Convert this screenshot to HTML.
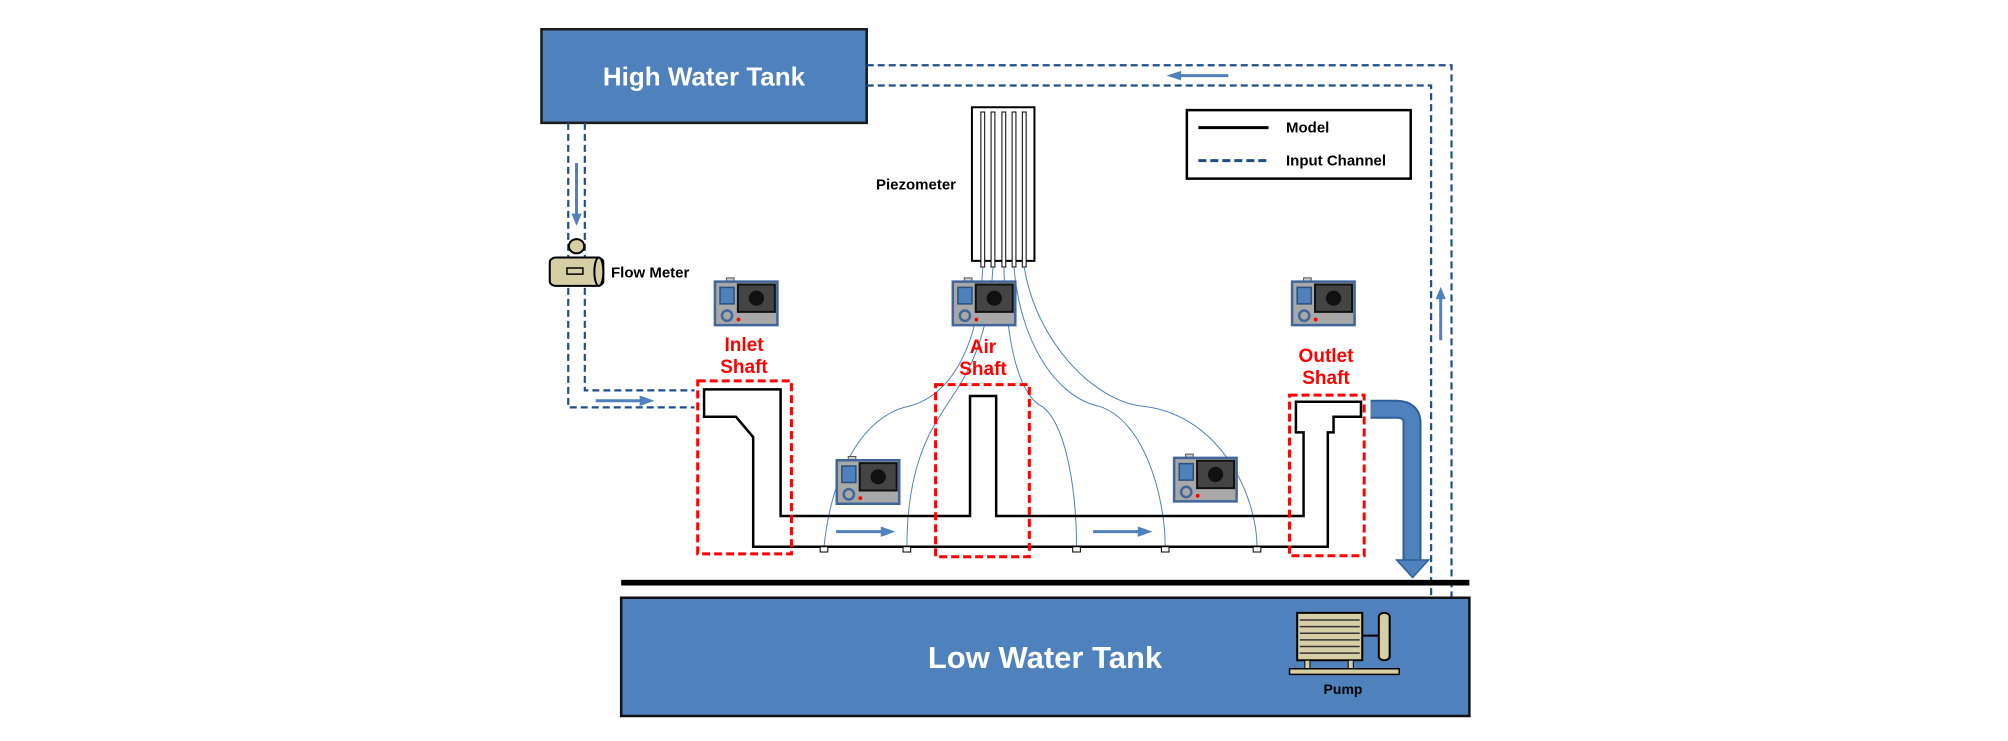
<!DOCTYPE html>
<html><head><meta charset="utf-8"><style>
body{margin:0;width:2008px;height:741px;background:#fff;position:relative;overflow:hidden;font-family:"Liberation Sans",sans-serif}
.t{position:absolute;transform:translate(-50%,-50%);white-space:nowrap;font-weight:bold}
.r{color:#ff0000;font-size:19px;text-align:center;line-height:22px}
</style></head><body>
<svg style="position:absolute;left:500px;top:0" width="1000" height="741" viewBox="0 0 1568 1568" preserveAspectRatio="none">
<defs>
<g id="cam">
<rect x="18" y="0" width="12" height="9" fill="#ccc" stroke="#555" stroke-width="1" vector-effect="non-scaling-stroke"/>
<rect x="0" y="8" width="98" height="92" fill="#a8a8a8" stroke="#41669b" stroke-width="2.5" vector-effect="non-scaling-stroke"/>
<rect x="8" y="20" width="22" height="35" fill="#4f81bd" stroke="#2a4f80" stroke-width="1.5" vector-effect="non-scaling-stroke"/>
<rect x="36" y="14" width="58" height="58" fill="#444" stroke="#111" stroke-width="2" vector-effect="non-scaling-stroke"/>
<ellipse cx="65" cy="43" rx="12" ry="16" fill="#111"/>
<ellipse cx="19" cy="80" rx="8" ry="11" fill="none" stroke="#41669b" stroke-width="2.5" vector-effect="non-scaling-stroke"/>
<ellipse cx="37" cy="88" rx="3" ry="4" fill="#f00"/>
</g>
</defs>
<g fill="none" vector-effect="non-scaling-stroke">
<rect x="65" y="62" width="510" height="198" fill="#4f81bd" stroke="#1a1a1a" stroke-width="2.5" vector-effect="non-scaling-stroke"/>
<g stroke="#1f4e8c" stroke-width="2.2" stroke-dasharray="7 4" fill="none">
<path d="M575,138 L1492,138 L1492,1360 L1395,1360" vector-effect="non-scaling-stroke"/>
<path d="M575,181 L1460,181 L1460,1327 L1395,1327" vector-effect="non-scaling-stroke"/>
<path d="M107,260 L107,862 L305,862" vector-effect="non-scaling-stroke"/>
<path d="M133,260 L133,826 L305,826" vector-effect="non-scaling-stroke"/>
</g>
<g stroke="#4f81bd" stroke-width="3" vector-effect="non-scaling-stroke">
<line x1="1142" y1="160" x2="1065" y2="160" vector-effect="non-scaling-stroke"/>
<line x1="120" y1="345" x2="120" y2="455" vector-effect="non-scaling-stroke"/>
<line x1="1475" y1="720" x2="1475" y2="630" vector-effect="non-scaling-stroke"/>
<line x1="150" y1="848" x2="222" y2="848" vector-effect="non-scaling-stroke"/>
<line x1="527" y1="1125" x2="600" y2="1125" vector-effect="non-scaling-stroke"/>
<line x1="930" y1="1125" x2="1003" y2="1125" vector-effect="non-scaling-stroke"/>
</g>
<g fill="#4f81bd">
<polygon points="1045,160 1068,150 1068,170"/>
<polygon points="120,478 112,452 128,452"/>
<polygon points="1475,607 1467,633 1483,633"/>
<polygon points="242,848 219,837 219,859"/>
<polygon points="620,1125 597,1114 597,1136"/>
<polygon points="1023,1125 1000,1114 1000,1136"/>
</g>
<rect x="740" y="227" width="98" height="325" fill="#fff" stroke="#000" stroke-width="2" vector-effect="non-scaling-stroke"/>
<g fill="#fff" stroke="#000" stroke-width="1" >
<rect x="754" y="237" width="6" height="328" vector-effect="non-scaling-stroke"/>
<rect x="770" y="237" width="6" height="328" vector-effect="non-scaling-stroke"/>
<rect x="787" y="237" width="6" height="328" vector-effect="non-scaling-stroke"/>
<rect x="803" y="237" width="6" height="328" vector-effect="non-scaling-stroke"/>
<rect x="819" y="237" width="6" height="328" vector-effect="non-scaling-stroke"/>
</g>
<rect x="1077" y="233" width="351" height="145" fill="#fff" stroke="#000" stroke-width="2.5" vector-effect="non-scaling-stroke"/>
<line x1="1095" y1="270" x2="1205" y2="270" stroke="#000" stroke-width="3" vector-effect="non-scaling-stroke"/>
<line x1="1095" y1="340" x2="1205" y2="340" stroke="#1f4e8c" stroke-width="3" stroke-dasharray="8 4" vector-effect="non-scaling-stroke"/>
<g stroke="#4f81bd" stroke-width="1" fill="none">
<path d="M757,565 C750,750 700,840 640,860 C570,880 520,1000 508,1157" vector-effect="non-scaling-stroke"/>
<path d="M773,565 C765,760 710,830 690,880 C650,960 638,1060 638,1157" vector-effect="non-scaling-stroke"/>
<path d="M790,565 C795,760 820,840 850,860 C890,900 904,1050 904,1157" vector-effect="non-scaling-stroke"/>
<path d="M806,565 C815,720 870,840 940,860 C1010,890 1043,1050 1043,1157" vector-effect="non-scaling-stroke"/>
<path d="M822,565 C840,720 930,850 1010,860 C1130,880 1187,1050 1187,1157" vector-effect="non-scaling-stroke"/>
</g>
<path d="M320,824 L440,824 L440,1092 L737,1092 L737,838 L778,838 L778,1092 L1260,1092 L1260,915 L1248,915 L1248,850 L1350,850 L1350,882 L1307,882 L1307,915 L1298,915 L1298,1157 L397,1157 L397,925 L370,882 L320,882 Z" fill="none" stroke="#000" stroke-width="2.5" vector-effect="non-scaling-stroke"/>
<g fill="#fff" stroke="#000" stroke-width="1">
<rect x="502" y="1157" width="12" height="11" vector-effect="non-scaling-stroke"/>
<rect x="632" y="1157" width="12" height="11" vector-effect="non-scaling-stroke"/>
<rect x="898" y="1157" width="12" height="11" vector-effect="non-scaling-stroke"/>
<rect x="1037" y="1157" width="12" height="11" vector-effect="non-scaling-stroke"/>
<rect x="1181" y="1157" width="12" height="11" vector-effect="non-scaling-stroke"/>
</g>
<g fill="none" stroke="#ff0000" stroke-width="3" stroke-dasharray="8 4">
<rect x="310" y="806" width="147" height="366" vector-effect="non-scaling-stroke"/>
<rect x="683" y="814" width="147" height="364" vector-effect="non-scaling-stroke"/>
<rect x="1238" y="836" width="117" height="340" vector-effect="non-scaling-stroke"/>
</g>
<use href="#cam" transform="translate(337,588)"/>
<use href="#cam" transform="translate(710,588)"/>
<use href="#cam" transform="translate(1242,588)"/>
<use href="#cam" transform="translate(528,966)"/>
<use href="#cam" transform="translate(1057,961)"/>
<path d="M1365,866 L1405,866 Q1430,866 1430,895 L1430,1188" fill="none" stroke="#2f5f9a" stroke-width="19" vector-effect="non-scaling-stroke"/>
<path d="M1365,866 L1405,866 Q1430,866 1430,895 L1430,1188" fill="none" stroke="#4f81bd" stroke-width="15" vector-effect="non-scaling-stroke"/>
<polygon points="1406,1185 1456,1185 1431,1222" fill="#4f81bd" stroke="#2f5f9a" stroke-width="1.5" vector-effect="non-scaling-stroke"/>
<rect x="78" y="545" width="84" height="60" rx="10" fill="#d6cfa6" stroke="#000" stroke-width="2" vector-effect="non-scaling-stroke"/>
<ellipse cx="155" cy="575" rx="7" ry="30" fill="#d6cfa6" stroke="#000" stroke-width="2" vector-effect="non-scaling-stroke"/>
<rect x="105" y="567" width="25" height="13" fill="none" stroke="#000" stroke-width="1.5" vector-effect="non-scaling-stroke"/>
<ellipse cx="120" cy="521" rx="12" ry="15" fill="#d6cfa6" stroke="#000" stroke-width="2" vector-effect="non-scaling-stroke"/>
<rect x="190" y="1227" width="1330" height="12" fill="#000"/>
<rect x="190" y="1265" width="1330" height="250" fill="#4f81bd" stroke="#111" stroke-width="2.5" vector-effect="non-scaling-stroke"/>
<line x1="1352" y1="1345" x2="1380" y2="1345" stroke="#000" stroke-width="2" vector-effect="non-scaling-stroke"/>
<rect x="1250" y="1297" width="102" height="100" fill="#d6cfa6" stroke="#000" stroke-width="2" vector-effect="non-scaling-stroke"/>
<g stroke="#333" stroke-width="1.5">
<line x1="1254" y1="1312" x2="1348" y2="1312" vector-effect="non-scaling-stroke"/>
<line x1="1254" y1="1326" x2="1348" y2="1326" vector-effect="non-scaling-stroke"/>
<line x1="1254" y1="1340" x2="1348" y2="1340" vector-effect="non-scaling-stroke"/>
<line x1="1254" y1="1354" x2="1348" y2="1354" vector-effect="non-scaling-stroke"/>
<line x1="1254" y1="1368" x2="1348" y2="1368" vector-effect="non-scaling-stroke"/>
<line x1="1254" y1="1382" x2="1348" y2="1382" vector-effect="non-scaling-stroke"/>
</g>
<rect x="1378" y="1297" width="17" height="100" rx="8" fill="#d6cfa6" stroke="#000" stroke-width="2" vector-effect="non-scaling-stroke"/>
<rect x="1262" y="1397" width="8" height="20" fill="#d6cfa6" stroke="#000" stroke-width="1" vector-effect="non-scaling-stroke"/>
<rect x="1330" y="1397" width="8" height="20" fill="#d6cfa6" stroke="#000" stroke-width="1" vector-effect="non-scaling-stroke"/>
<rect x="1238" y="1415" width="172" height="12" fill="#d6cfa6" stroke="#000" stroke-width="1.5" vector-effect="non-scaling-stroke"/>
</g>
</svg>
<div class="t" style="left:704px;top:77px;color:#fff;font-size:26px">High Water Tank</div>
<div class="t" style="left:1045px;top:658px;color:#fff;font-size:31px">Low Water Tank</div>
<div class="t" style="left:916px;top:185px;font-size:15px">Piezometer</div>
<div class="t" style="left:611px;top:273px;font-size:15px;transform:translate(0,-50%)">Flow Meter</div>
<div class="t" style="left:1286px;top:128px;font-size:15px;transform:translate(0,-50%)">Model</div>
<div class="t" style="left:1286px;top:161px;font-size:15px;transform:translate(0,-50%)">Input Channel</div>
<div class="t" style="left:1343px;top:689px;font-size:14px">Pump</div>
<div class="t r" style="left:744px;top:357px">Inlet<br>Shaft</div>
<div class="t r" style="left:983px;top:359px">Air<br>Shaft</div>
<div class="t r" style="left:1326px;top:368px">Outlet<br>Shaft</div>
</body></html>
